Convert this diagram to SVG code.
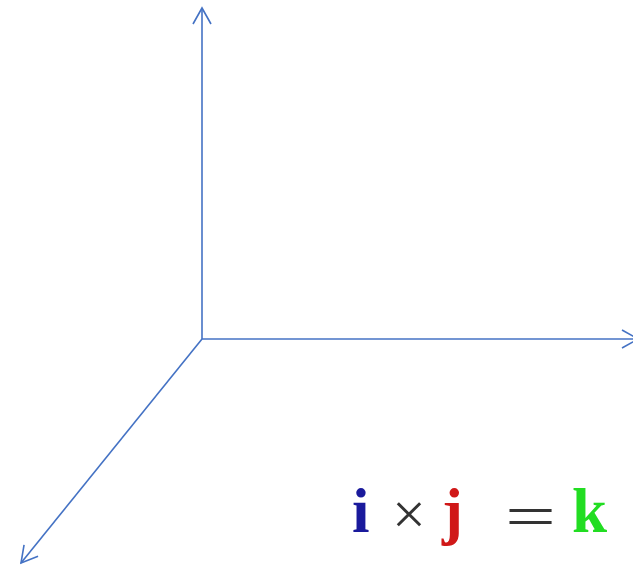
<svg xmlns="http://www.w3.org/2000/svg" width="633" height="568" viewBox="0 0 633 568">
<style>
.ax{stroke:#4472c4;stroke-width:1.6;fill:none}
.v{font-family:"Liberation Serif",serif;font-weight:bold;font-size:63px}
.op{font-family:"Liberation Serif",serif;font-size:60px;fill:#333}
</style>
<defs>
<marker id="arr" markerUnits="userSpaceOnUse" viewBox="-20 -12 22 24" markerWidth="22" markerHeight="24" refX="0" refY="0" orient="auto">
<path d="M-16,-9 L0,0 L-16,9" fill="none" stroke="#4472c4" stroke-width="1.6"/>
</marker>
</defs>
<rect width="633" height="568" fill="#fff"/>
<g id="connectors">
<line class="ax" x1="202" y1="339" x2="202" y2="8" marker-end="url(#arr)"/>
<line class="ax" x1="202" y1="339" x2="638" y2="339" marker-end="url(#arr)"/>
<line class="ax" x1="202" y1="339" x2="21" y2="563" marker-end="url(#arr)"/>
</g>
<g id="formula">
<text class="v" x="352" y="532" fill="#1a1a9c">i</text>
<text class="op" x="392" y="534">×</text>
<text class="v" x="442" y="532" fill="#d01818">j</text>
<text class="op" x="505" y="536" textLength="51" lengthAdjust="spacingAndGlyphs">=</text>
<text class="v" x="572" y="532" fill="#22dd22">k</text>
</g>
</svg>
